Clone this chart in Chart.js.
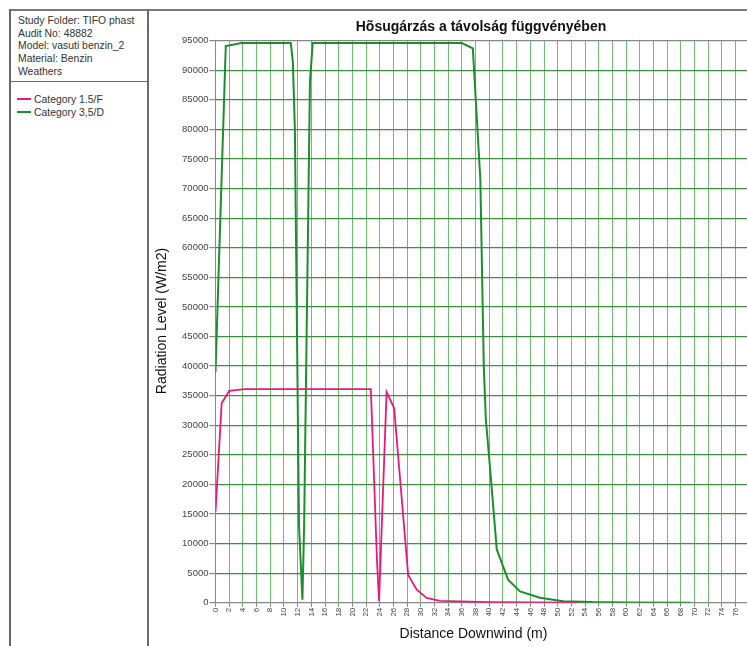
<!DOCTYPE html>
<html>
<head>
<meta charset="utf-8">
<title>Hősugárzás</title>
<script src="https://cdn.jsdelivr.net/npm/chart.js@4.4.0/dist/chart.umd.min.js"></script>
<style>
  html, body { margin: 0; padding: 0; background: #fff; overflow: hidden; }
  body { width: 747px; height: 646px; position: relative; font-family: Arial, "Liberation Sans", sans-serif; }
  .topline { position: absolute; left: 9px; top: 9px; width: 760px; height: 0; border-top: 2px solid #7a7a7a; }
  .panel { position: absolute; left: 9px; top: 9px; width: 136px; height: 660px;
           border-left: 2px solid #6a6a6a; border-right: 2px solid #6a6a6a; }
  .info { height: 73px; border-bottom: 1.5px solid #6a6a6a; padding: 6px 0 0 7px; box-sizing: border-box;
          font-size: 10.4px; line-height: 12.7px; color: #333; }
  .legend { padding: 11px 0 0 6px; font-size: 10.4px; line-height: 13px; color: #333; }
  .legend div { white-space: nowrap; }
  .legend span { display: inline-block; width: 14px; height: 2px; vertical-align: middle; margin-right: 3px; position: relative; top: -1px; }
  #wrap { position: absolute; left: 150px; top: 0; width: 662px; height: 646px; }
</style>
</head>
<body>
<div class="topline"></div>
<div class="panel">
  <div class="info">
    Study Folder: TIFO phast<br>
    Audit No: 48882<br>
    Model: vasuti benzin_2<br>
    Material: Benzin<br>
    Weathers
  </div>
  <div class="legend">
    <div><span style="background:#e8197a"></span>Category 1.5/F</div>
    <div><span style="background:#1c8f2c"></span>Category 3,5/D</div>
  </div>
</div>
<div id="wrap"><canvas id="radChart" width="662" height="646"></canvas></div>
<script>
// distance (m) and radiation (W/m2) for each weather category
const distF = [0, 0.9, 2.0, 4.2, 22.7, 23.6, 23.9, 25.0, 26.1, 28.15, 29.4, 30.85, 32.8, 40, 53];
const radF  = [15400, 33700, 35800, 36100, 36100, 7000, 300, 35600, 32900, 4700, 2200, 800, 300, 100, 0];

const distD = [0, 1.5, 3.8, 11.0, 11.3, 11.6, 12.2, 12.7, 12.95, 13.8, 14.2, 36.0, 37.6, 38.2, 38.7,
               39.2, 39.5, 40.1, 41.1, 42.75, 44.5, 47.4, 50.8, 55, 60, 69.4];
const radD  = [39000, 94100, 94600, 94600, 91500, 80000, 13000, 500, 13000, 88000, 94600, 94600, 93700, 81600, 71500,
               40000, 31000, 23000, 9000, 3900, 1900, 850, 250, 100, 50, 0];

const seriesNames = ['Category 1.5/F', 'Category 3,5/D'];
const chartTitle = 'Hõsugárzás a távolság függvényében';
const xTitle = 'Distance Downwind (m)';
const yTitle = 'Radiation Level (W/m2)';

const xMax = 80, xStep = 2;
const yMax = 95000, yStep = 5000;

function pairs(xs, ys) {
    return xs.map((x, i) => ({ x: x, y: ys[i] }));
}

// chart and axis titles are placed by hand
const titlePlugin = {
    id: 'titles',
    afterDraw(chart) {
        const ctx = chart.ctx;
        ctx.save();
        ctx.fillStyle = '#111';
        ctx.textAlign = 'center';
        ctx.textBaseline = 'middle';
        ctx.font = 'bold 14px Arial, "Liberation Sans", sans-serif';
        ctx.fillText(chartTitle, 331, 27);
        ctx.font = '14px Arial, "Liberation Sans", sans-serif';
        ctx.fillText(xTitle, 323.5, 634);
        ctx.translate(12, 321);
        ctx.rotate(-Math.PI / 2);
        ctx.fillText(yTitle, 0, 0);
        ctx.restore();
    }
};

const ctx = document.getElementById('radChart').getContext('2d');
new Chart(ctx, {
    type: 'line',
    data: {
        datasets: [
            {
                label: seriesNames[0],
                data: pairs(distF, radF),
                borderColor: '#e8197a',
                borderWidth: 1.8,
                pointRadius: 0,
                tension: 0,
                fill: false
            },
            {
                label: seriesNames[1],
                data: pairs(distD, radD),
                borderColor: '#1c8f2c',
                borderWidth: 2,
                pointRadius: 0,
                tension: 0,
                fill: false
            }
        ]
    },
    options: {
        responsive: false,
        animation: false,
        layout: { padding: { top: 40.7, bottom: 0, left: 0, right: 49 } },
        plugins: {
            legend: { display: false },
            title: { display: false },
            tooltip: { enabled: false }
        },
        scales: {
            x: {
                type: 'linear',
                min: 0,
                max: xMax,
                afterFit: function (scale) { scale.height = 43.3; },
                border: { color: '#888', width: 1 },
                grid: {
                    color: (c) => c.tick && c.tick.value === 0 ? '#888' : '#6dbf6d',
                    lineWidth: 1,
                    tickLength: 4,
                    tickColor: '#888'
                },
                ticks: {
                    stepSize: xStep,
                    autoSkip: false,
                    maxRotation: 90,
                    minRotation: 90,
                    padding: 1,
                    color: '#444',
                    font: { family: 'Arial, "Liberation Sans", sans-serif', size: 8 }
                }
            },
            y: {
                min: 0,
                max: yMax,
                afterFit: function (scale) { scale.width = 65.5; },
                border: { color: '#888', width: 1 },
                grid: {
                    color: (c) => c.tick && (c.tick.value === 0 || c.tick.value === yMax) ? '#888' : '#3c8f3c',
                    lineWidth: 1.2,
                    tickLength: 6,
                    tickColor: '#888'
                },
                ticks: {
                    stepSize: yStep,
                    padding: 1,
                    color: '#444',
                    callback: (v) => String(v),
                    font: { family: 'Arial, "Liberation Sans", sans-serif', size: 9.5 }
                }
            }
        }
    },
    plugins: [titlePlugin]
});
</script>
</body>
</html>
